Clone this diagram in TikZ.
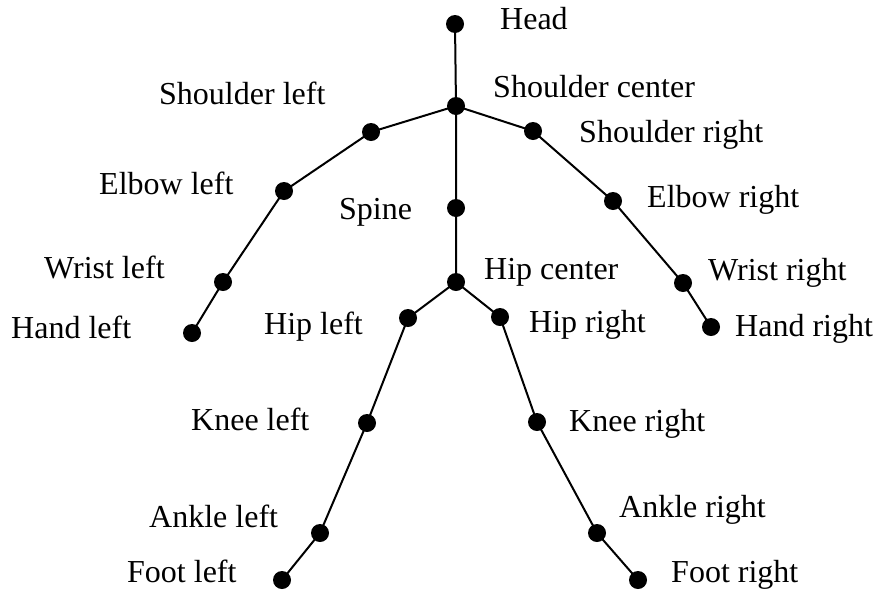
\documentclass[tikz,border=0pt]{standalone}
\usepackage{fontspec}
\setmainfont{Liberation Serif}
\begin{document}
\begin{tikzpicture}[x=1pt,y=-1pt,
  joint/.style={circle,fill=black,inner sep=0pt,minimum size=18pt},
  lbl/.style={anchor=west,inner sep=0pt,text height=0.66em,text depth=0pt,font=\fontsize{32}{36}\selectfont},
  bone/.style={line width=2pt}]
\useasboundingbox (0,0) rectangle (877,592);
% joints
\node[joint] (head) at (455,24) {};
\node[joint] (sc) at (456,106) {};
\node[joint] (sl) at (371,132) {};
\node[joint] (el) at (284,191) {};
\node[joint] (wl) at (223,282) {};
\node[joint] (hl) at (192,333) {};
\node[joint] (sr) at (533,131) {};
\node[joint] (er) at (613,201) {};
\node[joint] (wr) at (683,283) {};
\node[joint] (hr) at (711,327) {};
\node[joint] (sp) at (456,208) {};
\node[joint] (hc) at (456,282) {};
\node[joint] (hipl) at (408,318) {};
\node[joint] (kl) at (367,423) {};
\node[joint] (al) at (320,533) {};
\node[joint] (fl) at (282,580) {};
\node[joint] (hipr) at (500,317) {};
\node[joint] (kr) at (537,422) {};
\node[joint] (ar) at (597,533) {};
\node[joint] (fr) at (638,580) {};
% bones
\draw[bone] (head.center) -- (sc.center) -- (sp.center) -- (hc.center);
\draw[bone] (sc.center) -- (sl.center) -- (el.center) -- (wl.center) -- (hl.center);
\draw[bone] (sc.center) -- (sr.center) -- (er.center) -- (wr.center) -- (hr.center);
\draw[bone] (hc.center) -- (hipl.center) -- (kl.center) -- (al.center) -- (fl.center);
\draw[bone] (hc.center) -- (hipr.center) -- (kr.center) -- (ar.center) -- (fr.center);
% labels
\node[lbl] (t1) at (500,26) {Head};
\node[lbl] (t2) at (493,94) {Shoulder center};
\node[lbl] (t3) at (159,101) {Shoulder left};
\node[lbl] (t4) at (579,139) {Shoulder right};
\node[lbl] (t5) at (99,191) {Elbow left};
\node[lbl] (t6) at (647,204) {Elbow right};
\node[lbl] (t7) at (339,216) {Spine};
\node[lbl] (t8) at (44,275) {Wrist left};
\node[lbl] (t9) at (708,277) {Wrist right};
\node[lbl] (t10) at (484,276) {Hip center};
\node[lbl] (t11) at (11,335) {Hand left};
\node[lbl] (t12) at (735,333) {Hand right};
\node[lbl] (t13) at (264,331) {Hip left};
\node[lbl] (t14) at (529,329) {Hip right};
\node[lbl] (t15) at (191,427) {Knee left};
\node[lbl] (t16) at (569,428) {Knee right};
\node[lbl] (t17) at (149,524) {Ankle left};
\node[lbl] (t18) at (619,514) {Ankle right};
\node[lbl] (t19) at (127,579) {Foot left};
\node[lbl] (t20) at (671,579) {Foot right};
\end{tikzpicture}
\end{document}
